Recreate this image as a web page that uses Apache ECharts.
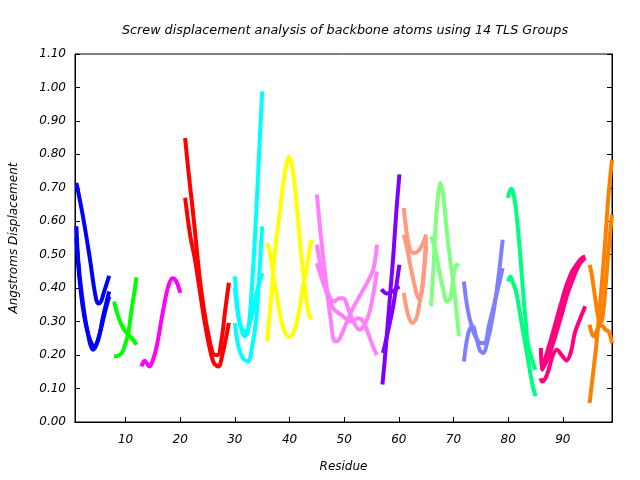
<!DOCTYPE html>
<html>
<head>
<meta charset="utf-8">
<script src="https://cdn.jsdelivr.net/npm/echarts@6/dist/echarts.min.js"></script>
<style>html,body{margin:0;padding:0;background:#fff}#c{width:640px;height:480px}</style>
</head>
<body>
<div id="c"></div>
<script>
// ---- Data (residue, displacement) ----
const xTicks = [10, 20, 30, 40, 50, 60, 70, 80, 90];
const titleText = "Screw displacement analysis of backbone atoms using 14 TLS Groups";

const blueA = [[1,0.715],[2.2,0.615],[3.5,0.485],[4.4,0.386],[5.0,0.354],[5.5,0.36],[6.0,0.385],[7.0,0.437]];
const blueB = [[1,0.585],[1.33,0.485],[1.95,0.386],[2.86,0.286],[4.07,0.216],[5.0,0.246],[5.9,0.316],[7.0,0.39]];
const blueC = [[1,0.55],[1.5,0.44],[2.2,0.34],[3.2,0.26],[4.3,0.225],[5.2,0.26],[6.1,0.32],[7.0,0.375]];

const greenA = [[7.9,0.36],[8.65,0.316],[9.56,0.281],[10.5,0.261],[11.4,0.246],[12.0,0.231]];
const greenB = [[7.9,0.196],[8.6,0.198],[9.3,0.206],[9.9,0.231],[10.5,0.266],[11.1,0.336],[11.6,0.386],[12.0,0.433]];

const magentaA = [[12.9,0.166],[13.5,0.183],[14.4,0.166],[15.0,0.185],[15.7,0.226],[16.9,0.336],[17.8,0.405],[18.6,0.43],[19.3,0.42],[20.0,0.386]];

const redA = [[20.9,0.849],[21.5,0.75],[22.35,0.625],[23.0,0.52],[23.6,0.425],[24.4,0.33],[25.1,0.266],[26.0,0.205],[26.8,0.2],[27.6,0.25],[28.2,0.33],[28.9,0.416]];
const redB = [[20.9,0.67],[21.8,0.56],[22.7,0.485],[23.6,0.39],[24.5,0.296],[25.4,0.22],[26.2,0.175],[27.0,0.166],[27.7,0.2],[28.3,0.245],[28.9,0.296]];

const cyanA = [[30.0,0.435],[30.6,0.326],[31.2,0.275],[31.8,0.256],[32.4,0.27],[33.0,0.376],[33.6,0.53],[34.2,0.724],[34.6,0.86],[35.0,0.988]];
const cyanB = [[30.0,0.296],[30.6,0.23],[31.5,0.19],[32.4,0.181],[33.2,0.23],[33.9,0.306],[34.5,0.45],[35.0,0.585]];
const cyanC = [[30.0,0.40],[30.5,0.33],[31.2,0.28],[31.9,0.27],[32.6,0.29],[33.4,0.34],[34.2,0.40],[35.0,0.445]];

const yellowA = [[35.9,0.241],[36.7,0.386],[37.4,0.52],[38.2,0.625],[39.0,0.73],[39.9,0.792],[40.7,0.74],[41.55,0.605],[42.2,0.49],[42.8,0.405],[43.4,0.33],[44.0,0.306]];
const yellowB = [[35.9,0.535],[36.5,0.50],[37.0,0.445],[38.2,0.326],[39.0,0.275],[40.0,0.254],[41.0,0.28],[41.9,0.346],[42.5,0.41],[43.0,0.445],[43.5,0.50],[44.0,0.545]];

const pinkA = [[45.0,0.68],[45.8,0.545],[46.7,0.416],[47.5,0.31],[48.3,0.241],[49.0,0.245],[50.4,0.296],[51.6,0.34],[52.8,0.376],[54.0,0.41],[55.3,0.455],[56.0,0.53]];
const pinkB = [[45.0,0.53],[46.1,0.435],[47.3,0.376],[48.2,0.36],[49.0,0.37],[49.8,0.37],[51.0,0.326],[52.0,0.29],[52.8,0.276],[53.5,0.285],[54.5,0.32],[55.3,0.38],[56.0,0.45]];
const pinkC = [[45.0,0.475],[46.5,0.40],[48.0,0.34],[49.5,0.32],[51.3,0.30],[52.5,0.31],[53.5,0.30],[54.5,0.26],[55.3,0.225],[56.0,0.2]];

const purpleA = [[57.0,0.112],[57.5,0.2],[58.0,0.3],[58.5,0.40],[59.0,0.50],[59.5,0.62],[60.1,0.74]];
const purpleB = [[57.1,0.206],[58.0,0.27],[59.0,0.35],[60.1,0.47]];
const purpleC = [[56.8,0.397],[57.2,0.39],[57.7,0.384],[58.3,0.386],[59.0,0.392],[60.1,0.405]];

const salmonA = [[60.9,0.64],[61.4,0.57],[61.9,0.525],[62.6,0.505],[63.5,0.51],[64.3,0.53],[65.0,0.56]];
const salmonB = [[60.9,0.56],[61.5,0.52],[62.2,0.46],[63.0,0.40],[63.6,0.37],[64.2,0.39],[64.6,0.45],[65.0,0.55]];
const salmonC = [[60.9,0.386],[61.7,0.32],[62.5,0.296],[63.2,0.31],[63.8,0.356],[64.4,0.42],[65.0,0.525]];

const lgreenA = [[65.9,0.346],[66.3,0.45],[66.7,0.58],[67.2,0.68],[67.6,0.715],[68.1,0.68],[68.6,0.60],[69.0,0.535],[69.6,0.46],[70.2,0.386],[70.6,0.32],[71.0,0.256]];
const lgreenB = [[65.9,0.555],[66.4,0.53],[66.8,0.505],[67.4,0.45],[68.0,0.405],[68.8,0.36],[69.4,0.37],[70.2,0.455],[70.6,0.47],[71.0,0.465]];

const periA = [[71.9,0.42],[72.6,0.336],[73.5,0.276],[74.2,0.25],[75.0,0.236],[75.7,0.236],[76.5,0.29],[77.5,0.356],[78.3,0.41],[79.0,0.46]];
const periB = [[71.9,0.181],[72.4,0.24],[72.9,0.276],[73.5,0.286],[74.2,0.25],[74.8,0.215],[75.4,0.206],[76.2,0.24],[77.2,0.316],[78.2,0.43],[79.0,0.545]];

const springA = [[79.95,0.67],[80.3,0.69],[80.6,0.697],[81.0,0.68],[81.5,0.625],[82.1,0.52],[82.7,0.396],[83.2,0.30],[83.6,0.236],[84.3,0.19],[85.0,0.156]];
const springB = [[80.0,0.42],[80.4,0.435],[80.8,0.42],[81.5,0.386],[82.2,0.32],[83.0,0.246],[83.8,0.17],[84.4,0.115],[85.0,0.077]];

const dpinkA = [[86.0,0.221],[86.2,0.156],[86.9,0.196],[87.7,0.24],[88.5,0.286],[89.6,0.35],[90.6,0.405],[91.7,0.45],[92.7,0.475],[93.5,0.49],[94.1,0.495]];
const dpinkB = [[86.0,0.156],[86.7,0.17],[87.4,0.196],[88.5,0.25],[89.7,0.316],[90.8,0.38],[91.8,0.425],[93.0,0.47],[94.1,0.49]];
const dpinkC = [[86.0,0.131],[86.2,0.121],[86.8,0.13],[87.4,0.156],[88.2,0.2],[88.9,0.216],[89.8,0.2],[90.7,0.184],[91.5,0.21],[92.2,0.266],[93.2,0.31],[94.1,0.346]];

const orangeA = [[94.9,0.057],[95.5,0.14],[96.1,0.226],[96.7,0.33],[97.3,0.445],[97.8,0.55],[98.2,0.645],[98.6,0.72],[99.0,0.784]];
const orangeB = [[94.9,0.47],[95.3,0.44],[95.7,0.396],[96.2,0.34],[96.6,0.306],[97.0,0.30],[97.4,0.33],[97.8,0.40],[98.3,0.50],[98.7,0.57],[99.0,0.62]];
const orangeC = [[94.9,0.291],[95.3,0.265],[95.7,0.256],[96.3,0.275],[96.9,0.291],[97.4,0.285],[97.8,0.276],[98.4,0.27],[99.0,0.236]];

const groups = [
  {color:'#0000ff', curves:[blueA, blueB, blueC]},
  {color:'#00ff00', curves:[greenA, greenB]},
  {color:'#ff00ff', curves:[magentaA]},
  {color:'#ff0000', curves:[redA, redB]},
  {color:'#00ffff', curves:[cyanA, cyanB, cyanC]},
  {color:'#ffff00', curves:[yellowA, yellowB]},
  {color:'#ff80ff', curves:[pinkA, pinkB, pinkC]},
  {color:'#8000ff', curves:[purpleA, purpleB, purpleC]},
  {color:'#ff9980', curves:[salmonA, salmonB, salmonC]},
  {color:'#80ff80', curves:[lgreenA, lgreenB]},
  {color:'#8080ff', curves:[periA, periB]},
  {color:'#00ff80', curves:[springA, springB]},
  {color:'#ff0080', curves:[dpinkA, dpinkB, dpinkC]},
  {color:'#ff8000', curves:[orangeA, orangeB, orangeC]}
];

const FONT = 'DejaVu Sans';
const series = [];
groups.forEach((g, gi) => {
  g.curves.forEach((c) => {
    series.push({
      name: 'TLS Group ' + (gi + 1),
      type: 'line',
      data: c,
      smooth: 0.35,
      showSymbol: false,
      symbol: 'none',
      lineStyle: {width: 4, color: g.color, join: 'round', cap: 'butt'},
      itemStyle: {color: g.color},
      silent: true,
      animation: false
    });
  });
});

const chart = echarts.init(document.getElementById('c'), null, {renderer: 'canvas'});
chart.setOption({
  animation: false,
  backgroundColor: '#ffffff',
  title: {
    text: titleText,
    left: 340,
    top: 19,
    textAlign: 'center',
    textStyle: {fontFamily: FONT, fontSize: 12.75, fontStyle: 'italic', fontWeight: 'normal', color: '#000'}
  },
  grid: {left: 75, right: 28, top: 54, bottom: 58, show: true, borderColor: '#000', borderWidth: 1, containLabel: false},
  xAxis: [{
    type: 'value', min: 0.75, max: 99,
    name: 'Residue', nameLocation: 'middle', nameGap: 39,
    nameTextStyle: {fontFamily: FONT, fontSize: 12, fontStyle: 'italic', color: '#000'},
    axisLine: {show: true, lineStyle: {color: '#000', width: 1}},
    axisTick: {show: true, inside: true, length: 5, lineStyle: {color: '#000'}, customValues: xTicks},
    axisLabel: {show: true, margin: 12, fontFamily: FONT, fontSize: 12, fontStyle: 'italic', color: '#000', customValues: xTicks},
    splitLine: {show: false}
  }, {
    type: 'value', min: 0.75, max: 99, position: 'top',
    axisLine: {show: true, lineStyle: {color: '#000', width: 1}},
    axisTick: {show: false},
    axisLabel: {show: false},
    splitLine: {show: false}
  }],
  yAxis: [{
    type: 'value', min: 0, max: 1.1, interval: 0.1,
    name: 'Angstroms Displacement', nameLocation: 'middle', nameGap: 55,
    nameTextStyle: {fontFamily: FONT, fontSize: 12, fontStyle: 'italic', color: '#000'},
    axisLine: {show: true, lineStyle: {color: '#000', width: 1}},
    axisTick: {show: true, inside: true, length: 5, lineStyle: {color: '#000'}},
    axisLabel: {show: true, margin: 9, fontFamily: FONT, fontSize: 12, fontStyle: 'italic', color: '#000', formatter: v => v.toFixed(2)},
    splitLine: {show: false}
  }, {
    type: 'value', min: 0, max: 1.1, interval: 0.1, position: 'right',
    axisLine: {show: true, lineStyle: {color: '#000', width: 1}},
    axisTick: {show: true, inside: true, length: 5, lineStyle: {color: '#000'}},
    axisLabel: {show: false},
    splitLine: {show: false}
  }],
  series: series
});
</script>
</body>
</html>
